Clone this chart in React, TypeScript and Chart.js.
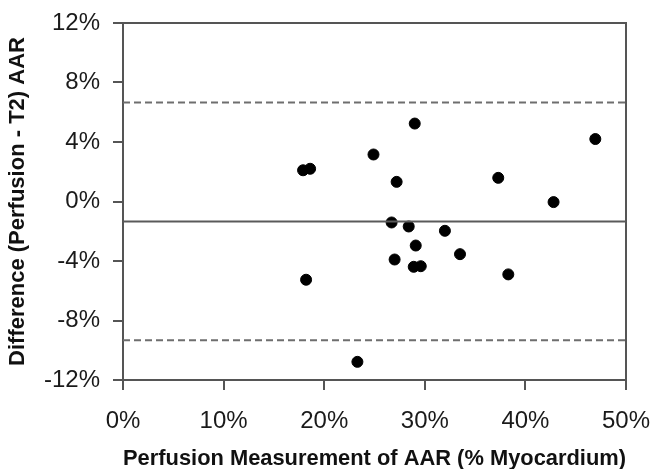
import React, { useEffect, useRef } from "react";
import { Chart, registerables } from "chart.js";

Chart.register(...registerables);

const xValues = [17.9, 18.6, 18.2, 23.3, 24.9, 26.7, 27.0, 27.2, 28.4, 28.9, 29.0, 29.1, 29.6, 32.0, 33.5, 37.3, 38.3, 42.8, 46.95];
const yValues = [2.1, 2.2, -5.26, -10.78, 3.16, -1.41, -3.9, 1.32, -1.68, -4.39, 5.24, -2.96, -4.35, -1.97, -3.54, 1.59, -4.9, -0.04, 4.2];
const meanDifference = -1.34;
const upperLimit = 6.66;
const lowerLimit = -9.32;
const xRange = [0, 50];
const yRange = [-12, 12];
const xTitle = "Perfusion Measurement of AAR (% Myocardium)";
const yTitle = "Difference (Perfusion - T2) AAR";

const AXIS_COLOR = "#555555";
const FONT = "'Liberation Sans', Arial, sans-serif";

const boxPlugin = {
  id: "boxBorder",
  beforeDatasetsDraw(chart: any) {
    const { ctx, chartArea } = chart;
    ctx.save();
    ctx.strokeStyle = AXIS_COLOR;
    ctx.lineWidth = 2;
    ctx.beginPath();
    ctx.moveTo(chartArea.left, chartArea.top);
    ctx.lineTo(chartArea.right, chartArea.top);
    ctx.lineTo(chartArea.right, chartArea.bottom);
    ctx.stroke();
    ctx.restore();
  },
};

export default function App() {
  const canvasRef = useRef<HTMLCanvasElement | null>(null);

  useEffect(() => {
    if (!canvasRef.current) return;
    const points = xValues.map((x, i) => ({ x, y: yValues[i] }));
    const hLine = (v: number) => xRange.map((x) => ({ x, y: v }));
    const chart = new Chart(canvasRef.current, {
      type: "scatter",
      data: {
        datasets: [
          {
            type: "line",
            data: hLine(upperLimit),
            borderColor: "#6e6e6e",
            borderWidth: 2,
            borderDash: [7, 4],
            pointRadius: 0,
            fill: false,
          },
          {
            type: "line",
            data: hLine(meanDifference),
            borderColor: "#5a5a5a",
            borderWidth: 2,
            pointRadius: 0,
            fill: false,
          },
          {
            type: "line",
            data: hLine(lowerLimit),
            borderColor: "#6e6e6e",
            borderWidth: 2,
            borderDash: [7, 4],
            pointRadius: 0,
            fill: false,
          },
          {
            data: points,
            backgroundColor: "#000000",
            borderColor: "#000000",
            pointRadius: 5.5,
            pointHoverRadius: 5.5,
          },
        ],
      },
      options: {
        animation: false,
        responsive: true,
        maintainAspectRatio: false,
        layout: { padding: { top: 23, right: 27, left: 0, bottom: 0 } },
        plugins: { legend: { display: false }, tooltip: { enabled: false } },
        scales: {
          x: {
            type: "linear",
            min: xRange[0],
            max: xRange[1],
            afterFit: (s: any) => {
              s.height = 89;
              s.paddingLeft = 0;
              s.paddingRight = 0;
            },
            ticks: {
              stepSize: 10,
              padding: 17,
              color: "#1a1a1a",
              font: { family: FONT, size: 24 },
              callback: (v: any) => v + "%",
            },
            grid: { drawOnChartArea: false, drawTicks: true, tickLength: 10, color: AXIS_COLOR, lineWidth: 2 },
            border: { display: true, color: AXIS_COLOR, width: 2 },
            title: {
              display: true,
              text: xTitle,
              color: "#111",
              font: { family: FONT, size: 22, weight: "bold" },
              padding: { top: 0, bottom: -3 },
            },
          },
          y: {
            type: "linear",
            min: yRange[0],
            max: yRange[1],
            afterFit: (s: any) => {
              s.width = 123;
              s.paddingTop = 0;
              s.paddingBottom = 0;
            },
            ticks: {
              stepSize: 4,
              padding: 13,
              color: "#1a1a1a",
              font: { family: FONT, size: 24 },
              callback: (v: any) => v + "%",
            },
            grid: { drawOnChartArea: false, drawTicks: true, tickLength: 10, color: AXIS_COLOR, lineWidth: 2 },
            border: { display: true, color: AXIS_COLOR, width: 2 },
            title: {
              display: true,
              text: yTitle,
              color: "#111",
              font: { family: FONT, size: 22, weight: "bold" },
              padding: { top: 5, bottom: 0 },
            },
          },
        },
      },
      plugins: [boxPlugin],
    } as any);
    return () => chart.destroy();
  }, []);

  return (
    <div style={{ position: "fixed", left: 0, top: 0, width: 653, height: 469, background: "#fff" }}>
      <canvas ref={canvasRef} />
    </div>
  );
}
